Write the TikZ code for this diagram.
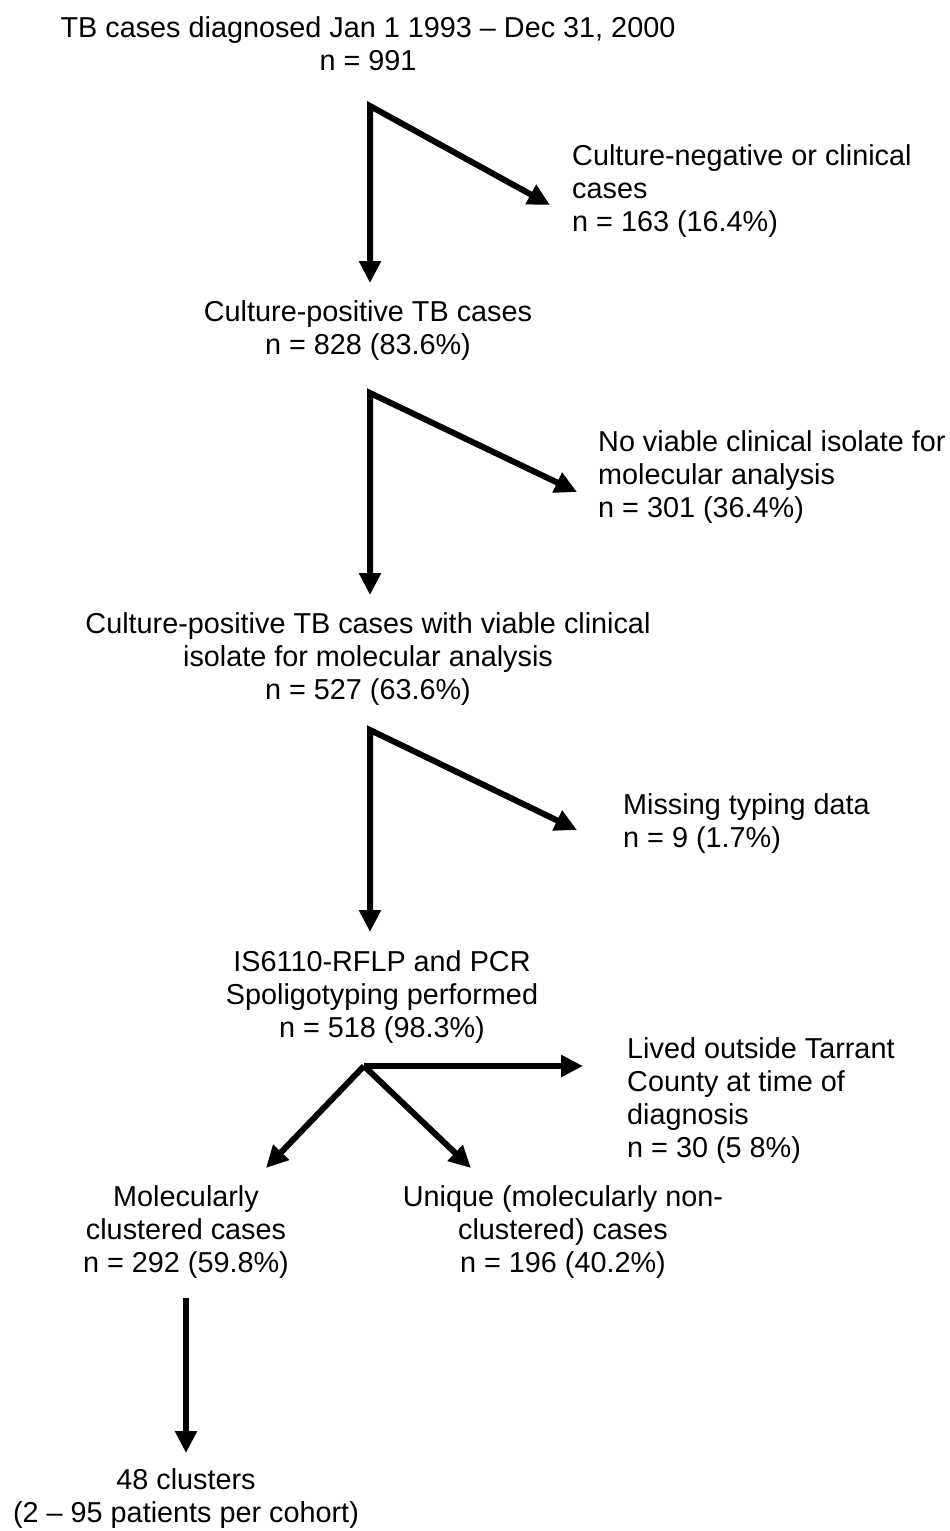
\documentclass[tikz,border=0pt]{standalone}
\usepackage{fontspec}
\setmainfont{Liberation Sans}
\usetikzlibrary{arrows.meta}
\begin{document}
\begin{tikzpicture}[x=1pt,y=-1pt,
  txt/.style={inner sep=0pt,align=center,font=\fontsize{28.8}{33}\selectfont},
  rtxt/.style={inner sep=0pt,align=left,anchor=west,font=\fontsize{28.8}{33}\selectfont},
  arr/.style={line width=6pt,line join=miter,-{Triangle[length=22pt,width=21pt]}},
  darr/.style={line width=6pt,line join=miter,{Triangle[length=22pt,width=21pt]}-{Triangle[length=22pt,width=21pt]}}]
\useasboundingbox[fill=white] (0,0) rectangle (950,1531);
% text nodes
\node[txt] (n0) at (368,44) {TB cases diagnosed Jan 1 1993 – Dec 31, 2000\\n = 991};
\node[rtxt] (r1) at (572,191) {Culture-negative or clinical\\cases\\n = 163 (16.4\%)};
\node[txt] (n1) at (368,331) {Culture-positive TB cases\\n = 828 (83.6\%)};
\node[rtxt] (r2) at (598,477) {No viable clinical isolate for\\molecular analysis\\n = 301 (36.4\%)};
\node[txt] (n2) at (368,659) {Culture-positive TB cases with viable clinical\\isolate for molecular analysis\\n = 527 (63.6\%)};
\node[rtxt] (r3) at (623,824) {Missing typing data\\n = 9 (1.7\%)};
\node[txt] (n3) at (382,997) {IS6110-RFLP and PCR\\Spoligotyping performed\\n = 518 (98.3\%)};
\node[rtxt] (r4) at (627,1101) {Lived outside Tarrant\\County at time of\\diagnosis\\n = 30 (5 8\%)};
\node[txt] (n4) at (186,1232) {Molecularly\\clustered cases\\n = 292 (59.8\%)};
\node[txt] (n5) at (563,1232) {Unique (molecularly non-\\clustered) cases\\n = 196 (40.2\%)};
\node[txt] (n6) at (186,1499) {48 clusters\\(2 – 95 patients per cohort)};
% connector coordinates
\coordinate (c1) at (370,106);
\coordinate (t1) at (370,283);
\coordinate (d1) at (550,205);
\coordinate (c2) at (370,393);
\coordinate (t2) at (370,595);
\coordinate (d2) at (577,492);
\coordinate (c3) at (370,730);
\coordinate (t3) at (370,932);
\coordinate (d3) at (577,830);
\coordinate (c4) at (364,1066);
\coordinate (h4) at (583,1066);
\coordinate (l4) at (266,1168);
\coordinate (g4) at (471,1168);
\coordinate (c5) at (186,1298);
\coordinate (t5) at (186,1453);
% connectors
\draw[darr] (t1) -- (c1) -- (d1);
\draw[darr] (t2) -- (c2) -- (d2);
\draw[darr] (t3) -- (c3) -- (d3);
\draw[arr] (c4) -- (h4);
\draw[arr] (c4) -- (l4);
\draw[arr] (c4) -- (g4);
\draw[arr] (c5) -- (t5);
\end{tikzpicture}
\end{document}
